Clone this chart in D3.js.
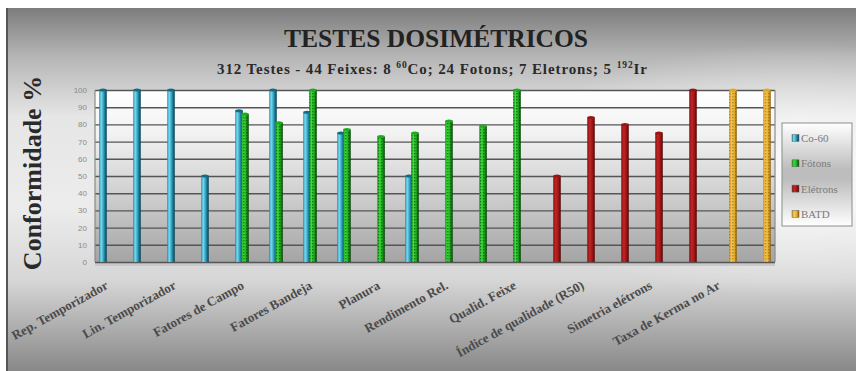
<!DOCTYPE html>
<html>
<head>
<meta charset="utf-8">
<script src="https://cdn.jsdelivr.net/npm/d3@7"></script>
<style>
  html, body { margin: 0; padding: 0; background: #fff; }
  svg { display: block; }
</style>
</head>
<body>
<svg id="chart" width="856" height="371"></svg>
<script>
// Test categories (20 columns, every other one carries a printed label)
const categories = d3.range(20);
const tickLabels = [
  "Rep. Temporizador", "Lin. Temporizador", "Fatores de Campo", "Fatores Bandeja",
  "Planura", "Rendimento Rel.", "Qualid. Feixe", "Índice de qualidade (R50)",
  "Simetria elétrons", "Taxa de Kerma no Ar"
];
const seriesNames = ["Co-60", "Fótons", "Elétrons", "BATD"];

// Conformity (%) per category; null = no column
const co60     = [100, 100, 100, 50, 88, 100, 87, 75, null, 50, null, null, null, null, null, null, null, null, null, null];
const fotons   = [null, null, null, null, 86, 81, 100, 77, 73, 75, 82, 79, 100, null, null, null, null, null, null, null];
const eletrons = [null, null, null, null, null, null, null, null, null, null, null, null, null, 50, 84, 80, 75, 100, null, null];
const batd     = [null, null, null, null, null, null, null, null, null, null, null, null, null, null, null, null, null, null, 100, 100];
const yTicks = [0, 10, 20, 30, 40, 50, 60, 70, 80, 90, 100];

const seriesValues = [co60, fotons, eletrons, batd];

const svg = d3.select("#chart");
const W = 856, H = 371;
const plot = { left: 95, right: 775, top: 90, bottom: 262 };

const defs = svg.append("defs");

// Chart background: dark band top and bottom, light in the middle
const bg = defs.append("linearGradient").attr("id", "bgGrad")
  .attr("x1", 0).attr("y1", 0).attr("x2", 0).attr("y2", 1);
[[0, "#7c7c7c"], [0.13, "#b4b4b4"], [0.3, "#e6e6e6"], [0.55, "#ececec"], [0.75, "#d6d6d6"], [1, "#888"]]
  .forEach(([o, c]) => bg.append("stop").attr("offset", o).attr("stop-color", c));

const sideGlow = defs.append("radialGradient").attr("id", "glow")
  .attr("cx", 0.93).attr("cy", 0.45).attr("r", 0.35);
sideGlow.append("stop").attr("offset", 0).attr("stop-color", "#fff").attr("stop-opacity", 0.8);
sideGlow.append("stop").attr("offset", 1).attr("stop-color", "#fff").attr("stop-opacity", 0);

const plotBg = defs.append("linearGradient").attr("id", "plotGrad")
  .attr("x1", 0).attr("y1", 0).attr("x2", 0).attr("y2", 1);
[[0, "#ffffff"], [0.25, "#f2f2f2"], [0.6, "#d0d0d0"], [1, "#a4a4a4"]]
  .forEach(([o, c]) => plotBg.append("stop").attr("offset", o).attr("stop-color", c));

const legBg = defs.append("linearGradient").attr("id", "legGrad")
  .attr("x1", 0).attr("y1", 0).attr("x2", 0).attr("y2", 1);
[[0, "#ffffff"], [0.45, "#bdbdbd"], [0.55, "#bdbdbd"], [1, "#ffffff"]]
  .forEach(([o, c]) => legBg.append("stop").attr("offset", o).attr("stop-color", c));

// Column shading for each series (cylinder look)
const barStops = [
  [[0, "#1d8aa6"], [0.25, "#7ddcf0"], [0.55, "#34a8c6"], [0.8, "#136a82"], [1, "#0a3e4e"]],
  [[0, "#1a9a1a"], [0.3, "#3ddc3d"], [0.65, "#1faa1f"], [1, "#064006"]],
  [[0, "#8a1010"], [0.35, "#c02626"], [0.7, "#9a1414"], [1, "#4a0606"]],
  [[0, "#d89a1c"], [0.35, "#f6cc58"], [0.7, "#e0a82a"], [1, "#8a5e0a"]]
];
barStops.forEach((stops, i) => {
  const g = defs.append("linearGradient").attr("id", "bar" + i)
    .attr("x1", 0).attr("y1", 0).attr("x2", 1).attr("y2", 0);
  stops.forEach(([o, c]) => g.append("stop").attr("offset", o).attr("stop-color", c));
});

// Dotted texture on the Fótons and BATD columns
function dotPattern(id, dot) {
  const p = defs.append("pattern").attr("id", id)
    .attr("width", 3).attr("height", 3).attr("patternUnits", "userSpaceOnUse");
  p.append("rect").attr("width", 1.4).attr("height", 1.4).attr("fill", dot);
}
dotPattern("dotsG", "rgba(0,60,0,0.55)");
dotPattern("dotsY", "rgba(120,70,0,0.45)");

// Background
svg.append("rect").attr("x", 0).attr("y", 0).attr("width", W).attr("height", H).attr("fill", "#fff");
svg.append("rect").attr("x", 6).attr("y", 8).attr("width", W - 6).attr("height", H - 8).attr("fill", "url(#bgGrad)");
svg.append("rect").attr("x", 6).attr("y", 8).attr("width", W - 6).attr("height", H - 8).attr("fill", "url(#glow)");
svg.append("rect").attr("x", 6).attr("y", 8).attr("width", 2).attr("height", H - 8).attr("fill", "#555");

// Scales
const x = d3.scaleBand().domain(categories).range([plot.left, plot.right]).paddingInner(0).paddingOuter(0);
const xs = d3.scaleBand().domain(d3.range(seriesNames.length)).range([-12, 12]);
const y = d3.scaleLinear().domain([0, 100]).range([plot.bottom, plot.top]);

// Plot area
svg.append("rect")
  .attr("x", plot.left).attr("y", plot.top)
  .attr("width", plot.right - plot.left).attr("height", plot.bottom - plot.top)
  .attr("fill", "url(#plotGrad)");
// floor strip
svg.append("rect")
  .attr("x", plot.left).attr("y", plot.bottom)
  .attr("width", plot.right - plot.left).attr("height", 4)
  .attr("fill", "#c9c9c9");

// Gridlines + value axis
const yAxis = d3.axisLeft(y).tickValues(yTicks).tickSize(-(plot.right - plot.left)).tickPadding(8);
const gy = svg.append("g").attr("transform", `translate(${plot.left},0)`).call(yAxis);
gy.select(".domain").remove();
gy.selectAll(".tick line").attr("stroke", "#555").attr("stroke-width", 1.4);
gy.selectAll(".tick text")
  .attr("fill", "#8a8a8a").attr("font-family", "Liberation Sans, Arial, sans-serif")
  .attr("font-size", 8);

// plot frame sides
svg.append("line").attr("x1", plot.left).attr("x2", plot.left).attr("y1", plot.top).attr("y2", plot.bottom)
  .attr("stroke", "#8a8a8a").attr("stroke-width", 1.2);
svg.append("line").attr("x1", plot.right).attr("x2", plot.right).attr("y1", plot.top).attr("y2", plot.bottom)
  .attr("stroke", "#8a8a8a").attr("stroke-width", 1.2);

// Columns
const barW = xs.bandwidth() + 1.5;
seriesValues.forEach((vals, si) => {
  const data = categories.map((c, i) => ({ c, v: vals[i] })).filter(d => d.v != null);
  const g = svg.append("g");
  const bx = d => x(d.c) + x.bandwidth() / 2 + xs(si) - 0.75;
  g.selectAll("rect.col").data(data).join("rect").attr("class", "col")
    .attr("x", bx).attr("y", d => y(d.v))
    .attr("width", barW).attr("height", d => y(0) - y(d.v))
    .attr("fill", `url(#bar${si})`);
  if (si === 1 || si === 3) {
    g.selectAll("rect.tex").data(data).join("rect").attr("class", "tex")
      .attr("x", bx).attr("y", d => y(d.v))
      .attr("width", barW).attr("height", d => y(0) - y(d.v))
      .attr("fill", si === 1 ? "url(#dotsG)" : "url(#dotsY)");
  }
  // rounded top cap
  g.selectAll("ellipse").data(data).join("ellipse")
    .attr("cx", d => bx(d) + barW / 2).attr("cy", d => y(d.v))
    .attr("rx", barW / 2).attr("ry", 1.5)
    .attr("fill", barStops[si][barStops[si].length - 2][1]);
});

// Category labels (every other column)
const gx = svg.append("g");
gx.selectAll("text").data(tickLabels).join("text")
  .attr("transform", (d, i) => `translate(${x(categories[i * 2]) + x.bandwidth() / 2 - 3},${288}) rotate(-29)`)
  .attr("text-anchor", "end")
  .attr("fill", "#4a4a4a")
  .attr("font-family", "Liberation Serif, Times New Roman, serif")
  .attr("font-weight", "bold")
  .attr("font-size", 13)
  .text(d => d);

// Titles
svg.append("text").attr("x", 436).attr("y", 47).attr("text-anchor", "middle")
  .attr("font-family", "Liberation Serif, Times New Roman, serif").attr("font-weight", "bold")
  .attr("font-size", 25.5).attr("fill", "#222").text("TESTES DOSIMÉTRICOS");

const sub = svg.append("text").attr("x", 432).attr("y", 74).attr("text-anchor", "middle")
  .attr("font-family", "Liberation Serif, Times New Roman, serif").attr("font-weight", "bold")
  .attr("font-size", 15).attr("fill", "#2a2a2a")
  .attr("textLength", 430).attr("lengthAdjust", "spacing");
sub.append("tspan").text("312 Testes - 44 Feixes: 8 ");
sub.append("tspan").attr("font-size", 9.5).attr("dy", -6).text("60");
sub.append("tspan").attr("dy", 6).text("Co; 24 Fotons; 7 Eletrons; 5 ");
sub.append("tspan").attr("font-size", 9.5).attr("dy", -6).text("192");
sub.append("tspan").attr("dy", 6).text("Ir");

svg.append("text")
  .attr("transform", "translate(41,173) rotate(-90)")
  .attr("text-anchor", "middle")
  .attr("font-family", "Liberation Serif, Times New Roman, serif").attr("font-weight", "bold")
  .attr("font-size", 26).attr("fill", "#2a2a2a")
  .text("Conformidade %");

// Legend
const leg = svg.append("g").attr("transform", "translate(782,123)");
leg.append("rect").attr("width", 70).attr("height", 103)
  .attr("fill", "url(#legGrad)").attr("stroke", "#8c8c8c").attr("stroke-width", 1);
const legRows = leg.selectAll("g.row").data(seriesNames).join("g").attr("class", "row")
  .attr("transform", (d, i) => `translate(10,${15 + i * 25.3})`);
legRows.append("rect").attr("x", 0).attr("y", -3.5).attr("width", 7).attr("height", 7)
  .attr("fill", (d, i) => `url(#bar${i})`).attr("stroke", "#666").attr("stroke-width", 0.5);
legRows.append("text").attr("x", 9).attr("y", 4)
  .attr("font-family", "Liberation Serif, Times New Roman, serif")
  .attr("font-size", 11).attr("fill", "#7a7a7a")
  .text(d => d);
</script>
</body>
</html>
